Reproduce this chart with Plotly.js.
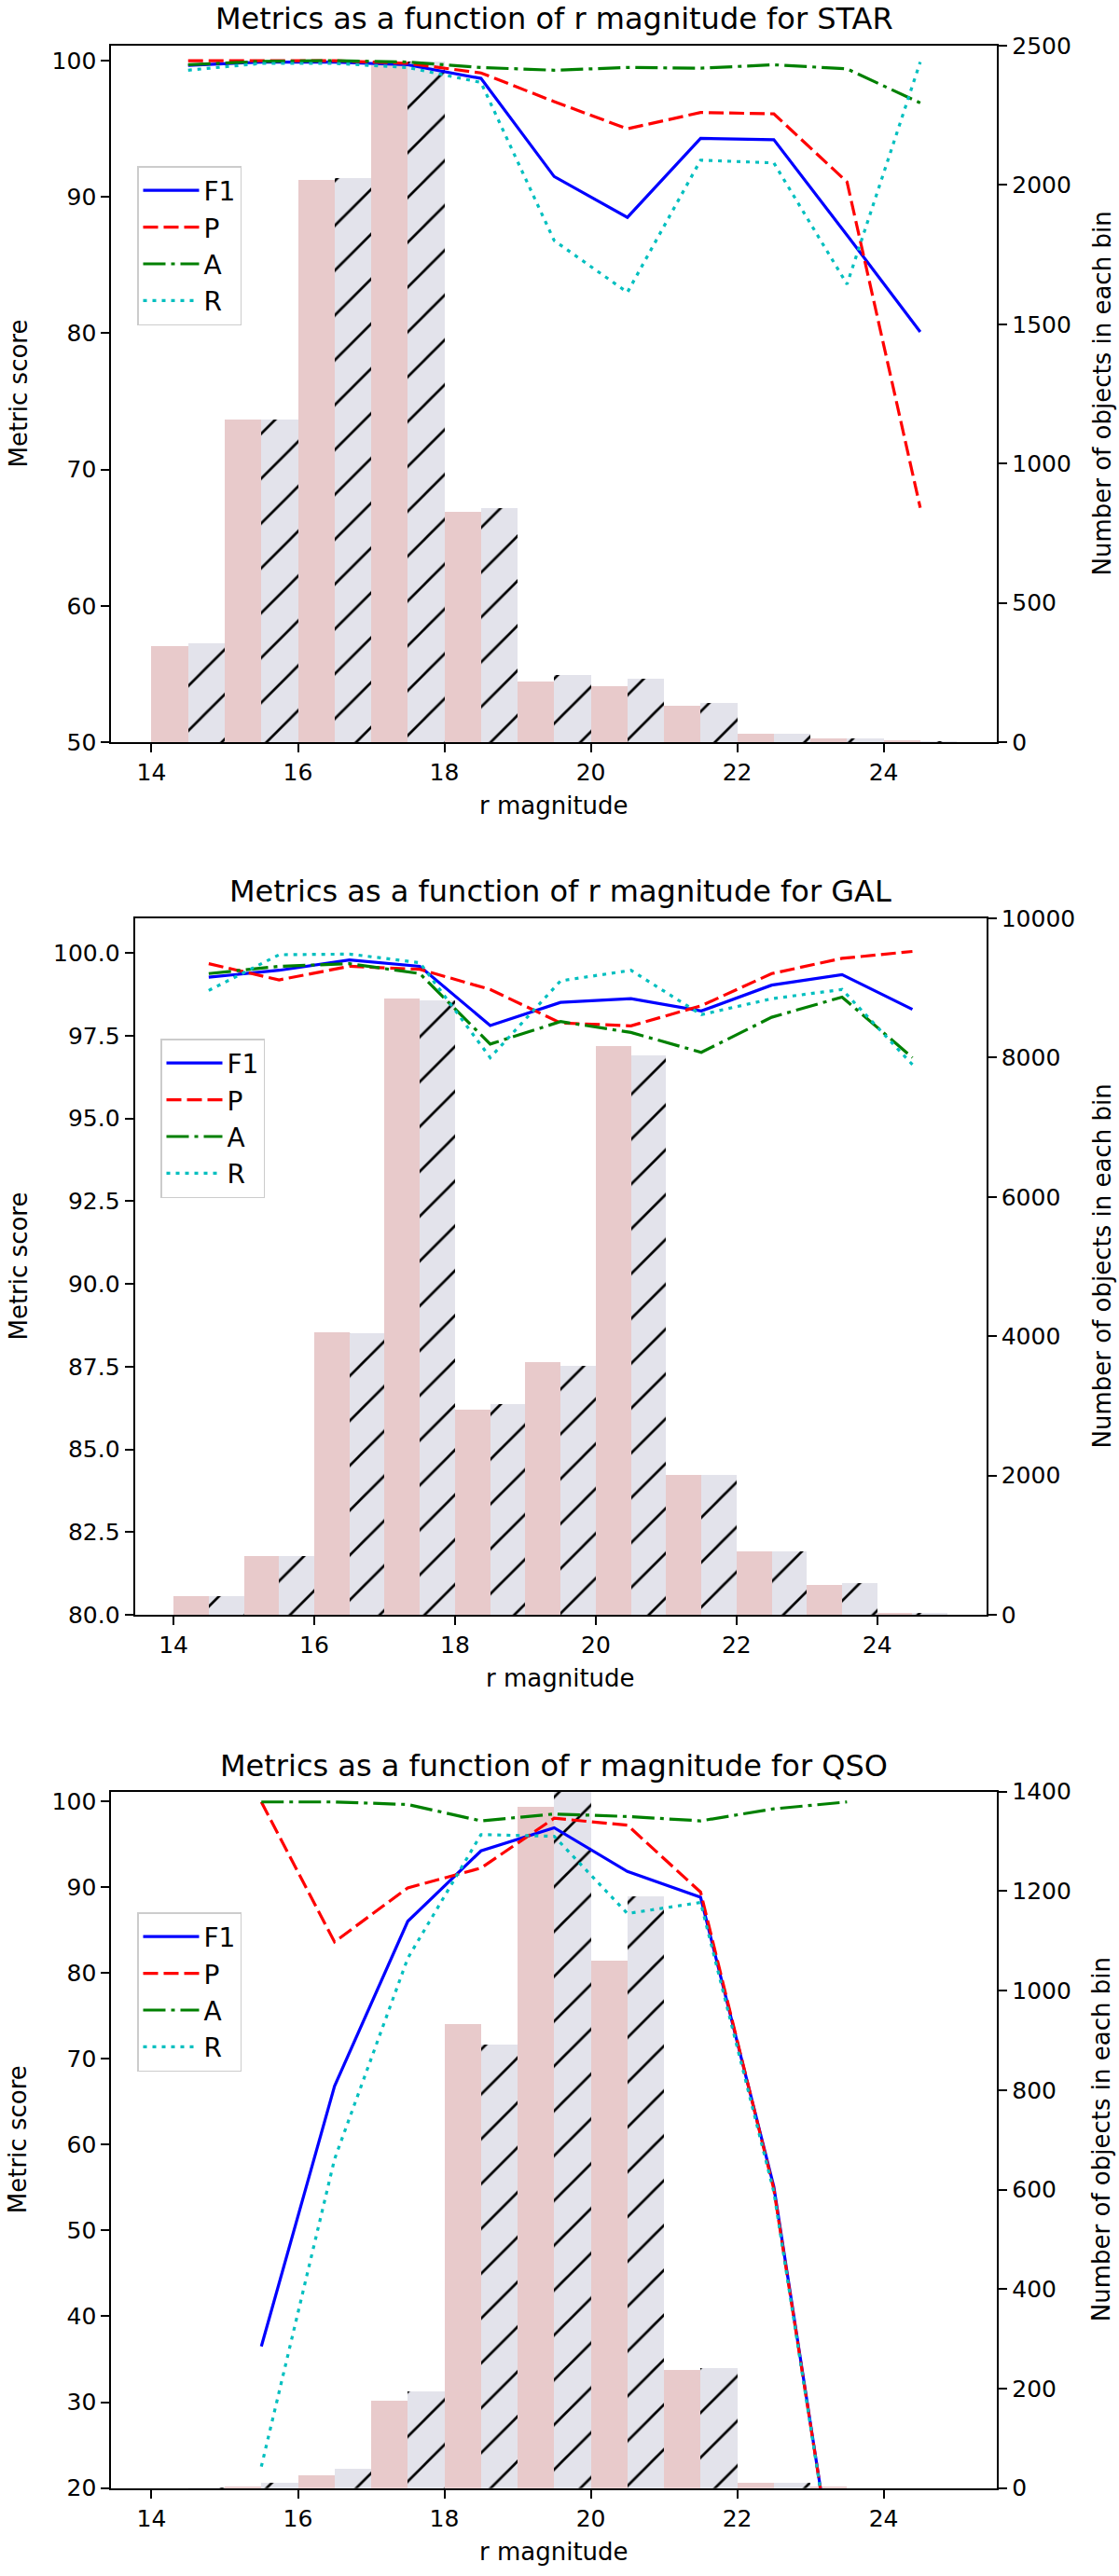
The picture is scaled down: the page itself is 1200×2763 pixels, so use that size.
<!DOCTYPE html>
<html>
<head>
<meta charset="utf-8">
<script src="https://cdn.plot.ly/plotly-3.0.1.min.js"></script>
<style>html,body{margin:0;padding:0;background:#fff;}#chart{width:1200px;height:2763px;}</style>
</head>
<body>
<div id="chart"></div>
<script>
// ---------- data ----------
const binStarts = [14, 15, 16, 17, 18, 19, 20, 21, 22, 23, 24];
const xTicks = [14, 16, 18, 20, 22, 24];

// STAR
const starCountA = [346, 1159, 2017, 2429, 828, 216, 202, 131, 29, 13, 6];
const starCountB = [354, 1159, 2025, 2442, 839, 241, 229, 139, 29, 13, 4];
const starMagCentres = [14.5, 15.5, 16.5, 17.5, 18.5, 19.5, 20.5, 21.5, 22.5, 23.5, 24.5];
const starF1 = [99.65, 99.9, 99.9, 99.7, 98.7, 91.5, 88.5, 94.3, 94.2, 87.2, 80.1];
const starP  = [100.0, 100.0, 100.0, 99.8, 99.1, 97.0, 95.0, 96.2, 96.1, 91.1, 67.2];
const starA  = [99.7, 99.95, 100.0, 99.9, 99.5, 99.3, 99.5, 99.45, 99.7, 99.4, 96.9];
const starR  = [99.3, 99.8, 99.8, 99.5, 98.4, 86.8, 83.0, 92.7, 92.5, 83.6, 99.9];

// GAL
const galCountA = [269, 846, 4062, 8846, 2946, 3623, 8169, 2008, 915, 423, 31];
const galCountB = [269, 846, 4038, 8823, 3023, 3569, 8038, 2008, 915, 454, 23];
const galMagCentres = [14.5, 15.5, 16.5, 17.5, 18.5, 19.5, 20.5, 21.5, 22.5, 23.5, 24.5];
const galF1 = [99.27, 99.48, 99.79, 99.6, 97.81, 98.51, 98.62, 98.25, 99.03, 99.35, 98.3];
const galP  = [99.68, 99.19, 99.6, 99.51, 98.9, 97.89, 97.8, 98.41, 99.38, 99.84, 100.05];
const galA  = [99.38, 99.6, 99.68, 99.38, 97.25, 97.93, 97.6, 97.0, 98.06, 98.67, 96.84];
const galR  = [98.87, 99.95, 99.97, 99.71, 96.84, 99.16, 99.48, 98.14, 98.62, 98.9, 96.63];

// QSO
const qsoCountA = [0, 3, 25, 175, 933, 1369, 1060, 237, 11, 4, 0];
const qsoCountB = [2, 11, 38, 194, 891, 1430, 1189, 241, 11, 0, 0];
const qsoMagCentres = [15.5, 16.5, 17.5, 18.5, 19.5, 20.5, 21.5, 22.5, 23.5];
const qsoF1 = [36.5, 66.8, 86.0, 94.2, 96.9, 91.8, 88.8, 55.1, 0];
const qsoP  = [99.9, 83.6, 89.9, 92.2, 98.0, 97.2, 89.4, 54.8, 0];
const qsoA  = [99.9, 99.9, 99.6, 97.7, 98.5, 98.2, 97.7, 99.1, 99.9];
const qsoR  = [22.5, 58.3, 81.7, 96.1, 95.9, 86.9, 88.2, 54.5, 0];

const metricNames = ['F1', 'P', 'A', 'R'];

// ---------- layout / style ----------
const W = 1200, H = 2763;
const FONT = 'DejaVu Sans, sans-serif';
const panels = [
  {name: 'STAR', box: {l: 119.3, r: 1069.3, t: 49, b: 796}, cnt: [0, 2500], cntTicks: [0, 500, 1000, 1500, 2000, 2500],
   score: [50, 101.1], scoreTicks: [50, 60, 70, 80, 90, 100], scoreFmt: 'd', titleY: 20, legend: {x: 147, y: 178},
   data: {a: starCountA, b: starCountB, xc: starMagCentres, F1: starF1, P: starP, A: starA, R: starR}},
  {name: 'GAL', box: {l: 144.6, r: 1057.7, t: 985, b: 1732}, cnt: [0, 10000], cntTicks: [0, 2000, 4000, 6000, 8000, 10000],
   score: [80, 101.05], scoreTicks: [80, 82.5, 85, 87.5, 90, 92.5, 95, 97.5, 100], scoreFmt: '.1f', titleY: 956, legend: {x: 172, y: 1114},
   data: {a: galCountA, b: galCountB, xc: galMagCentres, F1: galF1, P: galP, A: galA, R: galR}},
  {name: 'QSO', box: {l: 119.3, r: 1069.3, t: 1921.7, b: 2668.7}, cnt: [0, 1400], cntTicks: [0, 200, 400, 600, 800, 1000, 1200, 1400],
   score: [20, 101.1], scoreTicks: [20, 30, 40, 50, 60, 70, 80, 90, 100], scoreFmt: 'd', titleY: 1894, legend: {x: 147, y: 2051},
   data: {a: qsoCountA, b: qsoCountB, xc: qsoMagCentres, F1: qsoF1, P: qsoP, A: qsoA, R: qsoR}}
];

const lineStyles = {
  F1: {color: '#0000ff', dash: 'solid', width: 3.2},
  P:  {color: '#ff0000', dash: '16px,6px', width: 3.2},
  A:  {color: '#008000', dash: '24px,6px,4px,6px', width: 3.2},
  R:  {color: '#00bfbf', dash: '4px,6px', width: 3.2}
};

const traces = [];
const layout = {
  width: W, height: H, margin: {l: 0, r: 0, t: 0, b: 0},
  paper_bgcolor: '#ffffff', plot_bgcolor: 'rgba(0,0,0,0)',
  font: {family: FONT, size: 25, color: '#000'},
  showlegend: true, bargap: 0, barmode: 'overlay',
  annotations: []
};

panels.forEach((p, i) => {
  const n = i + 1;
  const xa = n === 1 ? 'x' : 'x' + n;
  const yBase = 'y' + (2 * i + 1 === 1 ? '' : (2 * i + 1));
  const yOver = 'y' + (2 * i + 2);
  const xKey = n === 1 ? 'xaxis' : 'xaxis' + n;
  const yBaseKey = 'yaxis' + (2 * i + 1 === 1 ? '' : (2 * i + 1));
  const yOverKey = 'yaxis' + (2 * i + 2);
  const legKey = n === 1 ? 'legend' : 'legend' + n;
  const xd = [p.box.l / W, p.box.r / W];
  const yd = [1 - p.box.b / H, 1 - p.box.t / H];

  layout[xKey] = {
    domain: xd, anchor: yBase, range: [13.45, 25.55], tickvals: xTicks,
    showline: true, mirror: true, linecolor: '#000', linewidth: 2,
    ticks: 'outside', ticklen: 9, tickwidth: 2, tickcolor: '#000',
    showgrid: false, zeroline: false, tickfont: {size: 25}
  };
  layout[yBaseKey] = {
    domain: yd, anchor: xa, side: 'right', range: p.cnt, tickvals: p.cntTicks, tickformat: 'd',
    showline: true, linecolor: '#000', linewidth: 2,
    ticks: 'outside', ticklen: 9, tickwidth: 2, tickcolor: '#000',
    showgrid: false, zeroline: false, tickfont: {size: 25}
  };
  layout[yOverKey] = {
    overlaying: yBase, anchor: xa, side: 'left', range: p.score, tickvals: p.scoreTicks,
    tickformat: p.scoreFmt,
    showline: true, linecolor: '#000', linewidth: 2,
    ticks: 'outside', ticklen: 9, tickwidth: 2, tickcolor: '#000',
    showgrid: false, zeroline: false, tickfont: {size: 25}
  };
  layout[legKey] = {
    x: p.legend.x / W, y: 1 - p.legend.y / H, xanchor: 'left', yanchor: 'top',
    bgcolor: '#ffffff', bordercolor: '#cccccc', borderwidth: 1.5,
    font: {size: 28}, tracegroupgap: 0, itemwidth: 60
  };

  // histogram bars (two per bin)
  traces.push({
    type: 'bar', x: binStarts.map(b => b + 0.25), y: p.data.a, width: 0.5,
    xaxis: xa, yaxis: yBase, showlegend: false,
    marker: {color: '#e8cacb', line: {width: 0}}, hoverinfo: 'skip'
  });
  traces.push({
    type: 'bar', x: binStarts.map(b => b + 0.75), y: p.data.b, width: 0.5,
    xaxis: xa, yaxis: yBase, showlegend: false,
    marker: {color: '#e3e3eb', line: {width: 0},
      pattern: {shape: '/', fgcolor: '#000000', bgcolor: '#e3e3eb', size: 34, solidity: 0.08, fillmode: 'replace'}},
    hoverinfo: 'skip'
  });
  // metric lines
  metricNames.forEach(m => {
    traces.push({
      type: 'scatter', mode: 'lines', x: p.data.xc, y: p.data[m], name: m,
      xaxis: xa, yaxis: yOver, legend: legKey,
      line: lineStyles[m]
    });
  });

  // titles
  const cx = (p.box.l + p.box.r) / 2 / W;
  layout.annotations.push({
    text: 'Metrics as a function of r magnitude for ' + p.name, xref: 'paper', yref: 'paper',
    x: cx, y: 1 - p.titleY / H, xanchor: 'center', yanchor: 'middle', showarrow: false,
    font: {size: 32}
  });
  layout.annotations.push({
    text: 'r magnitude', xref: 'paper', yref: 'paper',
    x: cx, y: 1 - (p.box.b + 68) / H, xanchor: 'center', yanchor: 'middle', showarrow: false,
    font: {size: 26}
  });
  layout.annotations.push({
    text: 'Metric score', xref: 'paper', yref: 'paper', textangle: -90,
    x: 19 / W, y: 1 - (p.box.t + p.box.b) / 2 / H, xanchor: 'center', yanchor: 'middle', showarrow: false,
    font: {size: 26}
  });
  layout.annotations.push({
    text: 'Number of objects in each bin', xref: 'paper', yref: 'paper', textangle: -90,
    x: 1181 / W, y: 1 - (p.box.t + p.box.b) / 2 / H, xanchor: 'center', yanchor: 'middle', showarrow: false,
    font: {size: 26}
  });
});

Plotly.newPlot('chart', traces, layout, {displayModeBar: false, staticPlot: true});
</script>
</body>
</html>
